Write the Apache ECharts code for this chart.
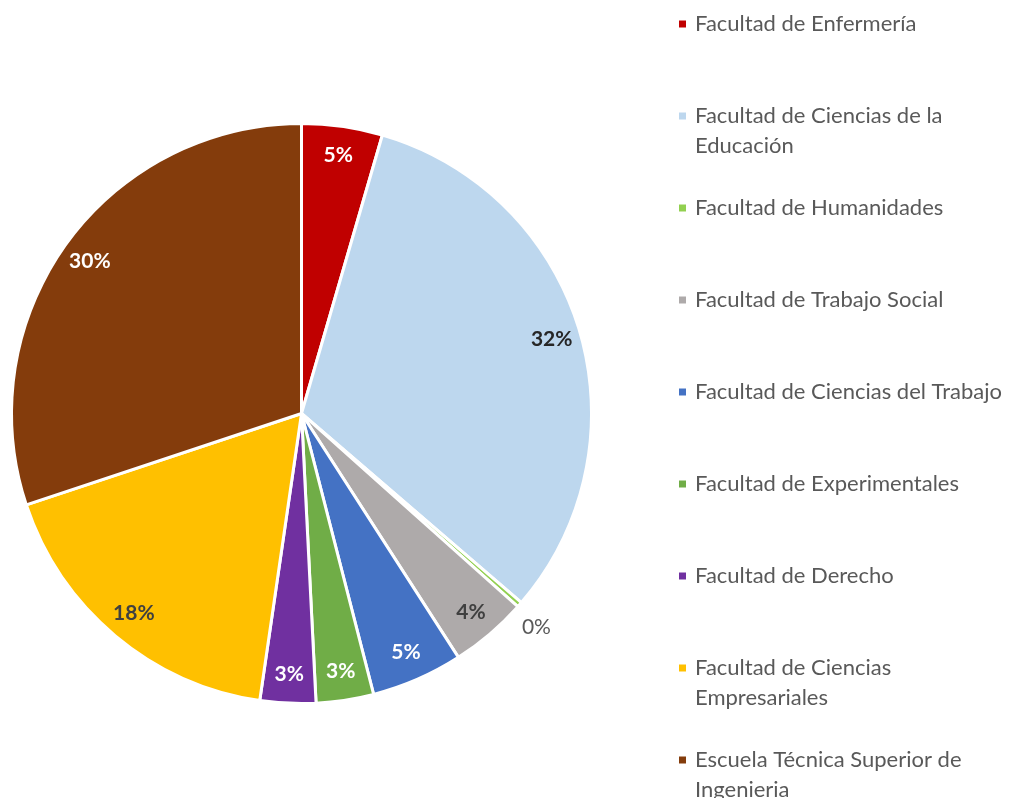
<!DOCTYPE html>
<html>
<head>
<meta charset="utf-8">
<script src="https://cdn.jsdelivr.net/npm/echarts@6/dist/echarts.min.js"></script>
<style>
  html, body { margin: 0; padding: 0; background: #fff; }
  #chart { width: 1010px; height: 798px; }
</style>
</head>
<body>
<div id="chart"></div>
<script>
// share of each faculty (percent)
const facultades = [
  'Facultad de Enfermería',
  'Facultad de Ciencias de la Educación',
  'Facultad de Humanidades',
  'Facultad de Trabajo Social',
  'Facultad de Ciencias del Trabajo',
  'Facultad de Experimentales',
  'Facultad de Derecho',
  'Facultad de Ciencias Empresariales',
  'Escuela Técnica Superior de Ingenieria'
]
const porcentajes = [4.5, 31.8, 0.3, 4.3, 5.1, 3.2, 3.1, 17.6, 30.1]

// legend text as shown (wrapped)
const legendLabels = [
  'Facultad de Enfermería',
  'Facultad de Ciencias de la\nEducación',
  'Facultad de Humanidades',
  'Facultad de Trabajo Social',
  'Facultad de Ciencias del Trabajo',
  'Facultad de Experimentales',
  'Facultad de Derecho',
  'Facultad de Ciencias\nEmpresariales',
  'Escuela Técnica Superior de\nIngenieria'
]

const sliceColors = ['#C00000', '#BDD7EE', '#92D050', '#AEAAAA', '#4472C4', '#70AD47', '#7030A0', '#FFC000', '#843C0C']
const labelColors = ['#fff', '#262626', '#595959', '#404040', '#fff', '#fff', '#fff', '#404040', '#fff']

const FONT = 'Lato'
const chart = echarts.init(document.getElementById('chart'), null, { renderer: 'canvas' })

// one legend per entry so that each sits in its own fixed slot
const legends = facultades.map((name, i) => {
  const twoLines = legendLabels[i].indexOf('\n') >= 0
  const markerY = 24 + 92 * i
  return {
    data: [name],
    orient: 'vertical',
    left: 677,
    top: twoLines ? markerY - 45 : markerY - 15,
    padding: 0,
    itemWidth: 9,
    itemHeight: 9,
    icon: 'rect',
    selectedMode: false,
    formatter: () => (twoLines ? '\n' : '') + legendLabels[i],
    textStyle: {
      fontFamily: FONT,
      fontSize: 22,
      lineHeight: 30,
      color: '#595959',
      padding: [0, 0, 0, 3]
    }
  }
})

const center = [301.5, 413.5]

chart.setOption({
  animation: false,
  legend: legends,
  series: [
    {
      type: 'pie',
      center: center,
      radius: 290,
      startAngle: 90,
      clockwise: true,
      avoidLabelOverlap: false,
      label: { show: false },
      labelLine: { show: false },
      itemStyle: { borderColor: '#fff', borderWidth: 3 },
      emphasis: { disabled: true },
      data: facultades.map((name, i) => ({
        name: name,
        value: porcentajes[i],
        itemStyle: { color: sliceColors[i] }
      }))
    },
    {
      // label ring: transparent, only carries the percentage labels
      type: 'pie',
      center: center,
      radius: [226, 290],
      startAngle: 90,
      clockwise: true,
      silent: true,
      avoidLabelOverlap: false,
      itemStyle: { color: 'rgba(0,0,0,0)', borderWidth: 0 },
      emphasis: { disabled: true },
      labelLine: { show: false, length: 15, length2: 0 },
      label: {
        show: true,
        position: 'inside',
        fontFamily: FONT,
        fontSize: 21,
        fontWeight: 'bold',
        formatter: p => Math.round(p.value) + '%'
      },
      labelLayout: p => (p.dataIndex === 2 ? { dx: -14, dy: 13 } : {}),
      data: facultades.map((name, i) => {
        const item = { name: name, value: porcentajes[i], label: { color: labelColors[i] } }
        if (porcentajes[i] < 1) {
          item.label.position = 'outside'
          item.label.fontWeight = 'normal'
          item.label.fontSize = 21
        }
        return item
      })
    }
  ]
})
</script>
</body>
</html>
